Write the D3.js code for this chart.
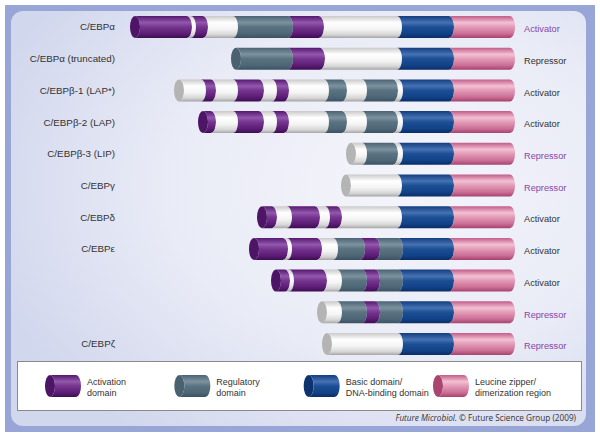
<!DOCTYPE html>
<html><head><meta charset="utf-8">
<script src="https://cdn.jsdelivr.net/npm/d3@7"></script>
<style>html,body{margin:0;padding:0;background:#fff}svg{display:block}</style>
</head><body>
<script>
// ---------------- DATA ----------------
const proteins = ["C/EBPα","C/EBPα (truncated)","C/EBPβ-1 (LAP*)","C/EBPβ-2 (LAP)","C/EBPβ-3 (LIP)","C/EBPγ","C/EBPδ","C/EBPε","","","C/EBPζ"];
const roles = ["Activator","Repressor","Activator","Activator","Repressor","Repressor","Activator","Activator","Activator","Repressor","Repressor"];
const roleHighlighted = [true,false,false,false,true,true,false,false,false,true,true];
// domain segments per protein: [type, from, to] (relative residue scale)
const segments = [
  [["act",0,60],["none",60,64],["act",64,76],["none",76,106],["reg",106,161],["act",161,192],["none",192,270],["bas",270,322],["zip",322,385]],
  [["reg",101,161],["act",161,193],["none",193,270],["bas",270,322],["zip",322,385]],
  [["none",44,74],["act",74,84],["none",84,106],["act",106,132],["none",132,145],["act",145,157],["none",157,197],["reg",197,215],["none",215,235],["reg",235,266],["none",266,271],["bas",271,322],["zip",322,385]],
  [["act",68,84],["none",84,106],["act",106,132],["none",132,145],["act",145,157],["none",157,197],["reg",197,215],["none",215,235],["reg",235,266],["none",266,271],["bas",271,322],["zip",322,385]],
  [["none",216,235],["reg",235,266],["none",266,271],["bas",271,322],["zip",322,385]],
  [["none",211,270],["bas",270,322],["zip",322,385]],
  [["act",127,145],["none",145,160],["act",160,188],["none",188,198],["act",198,210],["none",210,270],["bas",270,322],["zip",322,385]],
  [["act",119,156],["none",156,160],["act",160,190],["none",190,206],["reg",206,233],["act",233,248],["reg",248,271],["bas",271,322],["zip",322,385]],
  [["act",141,158],["none",158,162],["act",162,195],["none",195,210],["reg",210,235],["act",235,248],["reg",248,271],["bas",271,322],["zip",322,385]],
  [["none",187,210],["reg",210,235],["act",235,248],["reg",248,271],["bas",271,322],["zip",322,385]],
  [["none",192,271],["bas",271,322],["zip",322,385]]
];
const legendTypes = ["act","reg","bas","zip"];
const legendLabels = [["Activation","domain"],["Regulatory","domain"],["Basic domain/","DNA-binding domain"],["Leucine zipper/","dimerization region"]];

// ---------------- STYLES ----------------
const W = 600, H = 436;
const grad = {
  act:  [["0","#55186e"],["0.3","#9258ad"],["0.5","#76358f"],["0.8","#5c1d75"],["1","#3d0d52"]],
  reg:  [["0","#4a6373"],["0.3","#7d929f"],["0.5","#5a7381"],["0.8","#4e6675"],["1","#3a5262"]],
  none: [["0","#c9c9c9"],["0.3","#ffffff"],["0.6","#f4f4f4"],["0.85","#d6d6d6"],["1","#a5a5a5"]],
  bas:  [["0","#123d7e"],["0.3","#4672b4"],["0.5","#1c4f94"],["0.8","#124287"],["1","#0a2d66"]],
  zip:  [["0","#c25c88"],["0.3","#f3c0d3"],["0.5","#e29bb7"],["0.8","#cc6e95"],["1","#a5426f"]]
};
const capFill = {act:"#4e1466", reg:"#4a6170", none:"#b4b4b4", bas:"#0e3470", zip:"#a9456f"};

const svg = d3.select("body").append("svg").attr("width",W).attr("height",H);
const defs = svg.append("defs");
Object.entries(grad).forEach(([k,stops])=>{
  const g = defs.append("linearGradient").attr("id","g-"+k).attr("x1",0).attr("x2",0).attr("y1",0).attr("y2",1);
  stops.forEach(s=>g.append("stop").attr("offset",s[0]).attr("stop-color",s[1]));
});
const bg = defs.append("radialGradient").attr("id","bg").attr("cx","68%").attr("cy","42%").attr("r","75%");
bg.append("stop").attr("offset","0").attr("stop-color","#f4f5fb");
bg.append("stop").attr("offset","0.55").attr("stop-color","#e9ebf6");
bg.append("stop").attr("offset","1").attr("stop-color","#d1d7ed");

// frame
svg.append("rect").attr("x",5).attr("y",5).attr("width",590).attr("height",427).attr("fill","#97a6d6");
svg.append("rect").attr("x",11).attr("y",11).attr("width",575).attr("height",415).attr("rx",12).attr("fill","url(#bg)");

// scales
const x = d3.scaleLinear().domain([0,385]).range([130,515]);
const y = d3.scalePoint().domain(d3.range(proteins.length)).range([27,344]);
const barH = 22, rx = 5, seam = 3;

function segPath(x0,x1,yc,h){
  const t = yc-h/2, b = yc+h/2, ry = h/2;
  return `M${x0},${t}A${rx},${ry} 0 0 1 ${x0},${b}L${x1},${b}A${rx},${ry} 0 0 0 ${x1},${t}Z`;
}

const rows = svg.append("g").selectAll("g").data(segments).join("g");
rows.each(function(segs,i){
  const g = d3.select(this), yc = y(i), n = segs.length;
  const first = segs[0];
  g.append("ellipse").attr("cx",x(first[1])+rx).attr("cy",yc).attr("rx",rx).attr("ry",barH/2)
    .attr("fill",capFill[first[0]]);
  g.selectAll("path").data(segs).join("path")
    .attr("d",(d,k)=>segPath(k===0 ? x(d[1])+rx : x(d[1])-seam,
                              k===n-1 ? x(d[2])-rx : x(d[2])-seam, yc, barH))
    .attr("fill",d=>`url(#g-${d[0]})`);
});

// labels
const font = "'Liberation Sans', Arial, sans-serif";
svg.append("g").selectAll("text").data(proteins).join("text")
  .attr("x",115).attr("y",(d,i)=>y(i)).attr("dy","0.35em")
  .attr("text-anchor","end").attr("font-family",font).attr("font-size",9.8).attr("fill","#333")
  .text(d=>d);
svg.append("g").selectAll("text").data(roles).join("text")
  .attr("x",524).attr("y",(d,i)=>y(i)+2).attr("dy","0.35em")
  .attr("font-family",font).attr("font-size",9.2)
  .attr("fill",(d,i)=>roleHighlighted[i]?"#8a45a8":"#333")
  .text(d=>d);

// legend
svg.append("rect").attr("x",17.5).attr("y",361.5).attr("width",564).attr("height",49)
  .attr("fill","#fff").attr("stroke","#8a8a8a").attr("stroke-width",1);
const lx = d3.scalePoint().domain(legendTypes).range([45,433]);
const lg = svg.append("g").selectAll("g").data(legendTypes).join("g");
lg.each(function(t,i){
  const g = d3.select(this), x0 = lx(t)+rx, yc = 386;
  g.append("ellipse").attr("cx",x0).attr("cy",yc).attr("rx",rx).attr("ry",barH/2).attr("fill",capFill[t]);
  g.append("path").attr("d",segPath(x0,x0+26,yc,barH)).attr("fill",`url(#g-${t})`);
  const tx = g.append("text").attr("font-family",font).attr("font-size",9).attr("fill","#333");
  legendLabels[i].forEach((line,j)=>{
    tx.append("tspan").attr("x",lx(t)+42).attr("y",yc-4.5+j*11).attr("dy","0.35em").text(line);
  });
});

// footer
const ft = svg.append("text").attr("x",576).attr("y",421).attr("text-anchor","end")
  .attr("font-family","'Open Sans', sans-serif").attr("font-size",8.2).attr("fill","#333");
ft.append("tspan").attr("font-style","italic").text("Future Microbiol.");
ft.append("tspan").text(" © Future Science Group (2009)");
</script>
</body></html>
